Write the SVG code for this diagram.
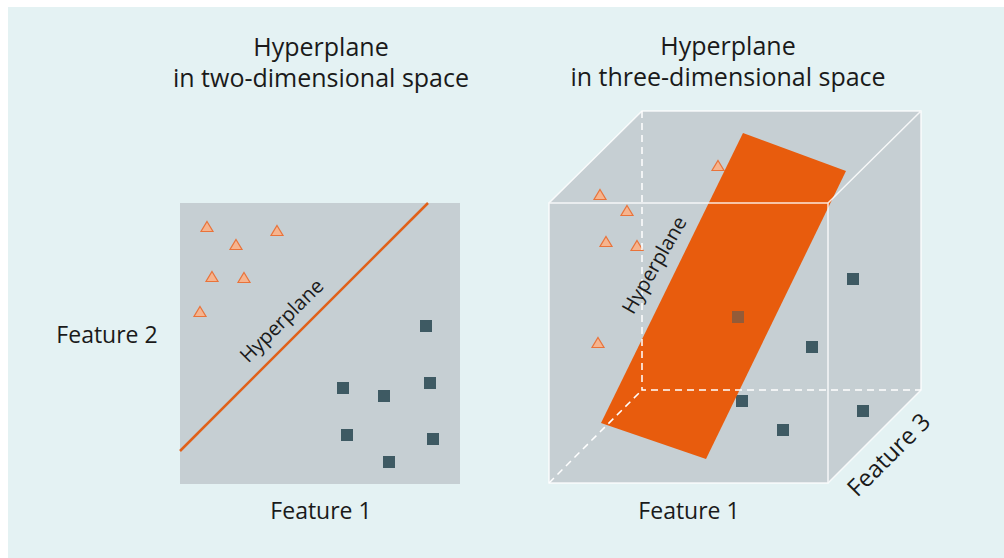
<svg xmlns="http://www.w3.org/2000/svg" xmlns:xlink="http://www.w3.org/1999/xlink" width="1004" height="558" viewBox="0 0 1004 558">
<style>
.t{font-family:"Open Sans","Liberation Sans",sans-serif;fill:#1a1a1a}
.title{font-size:25px;text-anchor:middle}
.lab{font-size:23px;text-anchor:middle}
.hp{font-size:20px;text-anchor:middle}
.panel{fill:#c6cfd3}
.tri{fill:#f6b48e;stroke:#e9733a;stroke-width:1.2}
.sq{fill:#3e5a63}
.edge{stroke:#ffffff;stroke-width:1.5;fill:none}
.dash{stroke:#ffffff;stroke-width:1.5;fill:none;stroke-dasharray:7 5}
</style>
<defs>
<path id="tr" d="M0,-5.5 L6,4.5 L-6,4.5Z"/>
<rect id="sq" x="-6" y="-6" width="12" height="12"/>
</defs>
<rect x="8" y="7" width="996" height="551" fill="#e4f2f3"/>
<g id="titles">
<text class="t title" x="321" y="56">Hyperplane</text>
<text class="t title" x="321" y="87">in two-dimensional space</text>
<text class="t title" x="728" y="55">Hyperplane</text>
<text class="t title" x="728" y="86">in three-dimensional space</text>
</g>
<g id="plot2d">
<rect class="panel" x="180" y="203" width="280" height="281"/>
<line x1="180" y1="451" x2="428" y2="203" stroke="#e0611a" stroke-width="2.5"/>
<text class="t hp" transform="translate(283,322) rotate(-45)" x="0" y="5">Hyperplane</text>
<g class="tri">
<use xlink:href="#tr" x="207" y="227"/>
<use xlink:href="#tr" x="236" y="245"/>
<use xlink:href="#tr" x="277" y="231"/>
<use xlink:href="#tr" x="212" y="277"/>
<use xlink:href="#tr" x="244" y="278"/>
<use xlink:href="#tr" x="200" y="312"/>
</g>
<g class="sq">
<use xlink:href="#sq" x="426" y="326"/>
<use xlink:href="#sq" x="343" y="388"/>
<use xlink:href="#sq" x="384" y="396"/>
<use xlink:href="#sq" x="430" y="383"/>
<use xlink:href="#sq" x="347" y="435"/>
<use xlink:href="#sq" x="433" y="439"/>
<use xlink:href="#sq" x="389" y="462"/>
</g>
<text class="t lab" x="107" y="343">Feature 2</text>
<text class="t lab" x="321" y="519">Feature 1</text>
</g>
<g id="plot3d">
<polygon class="panel" points="549,203 642,111 921,111 921,390 828,483 549,483"/>
<g class="tri">
<use xlink:href="#tr" x="600" y="195"/>
<use xlink:href="#tr" x="627" y="211"/>
<use xlink:href="#tr" x="606" y="242"/>
<use xlink:href="#tr" x="637" y="246"/>
<use xlink:href="#tr" x="598" y="343"/>
<use xlink:href="#tr" x="718" y="166"/>
</g>
<g class="sq">
<use xlink:href="#sq" x="853" y="279"/>
<use xlink:href="#sq" x="812" y="347"/>
<use xlink:href="#sq" x="742" y="401"/>
<use xlink:href="#sq" x="863" y="411"/>
<use xlink:href="#sq" x="783" y="430"/>
</g>
<polygon points="743,133 846,171 706,459 601,423" fill="#e85c0d"/>
<use xlink:href="#sq" x="738" y="317" fill="#3e5a63" opacity="0.5"/>
<g id="cube-edges">
<path class="dash" d="M642,111 V390 H921 M549,483 L642,390"/>
<g opacity="0.85">
<rect class="edge" x="549" y="203" width="279" height="280"/>
<path class="edge" d="M549,203 L642,111 H921 V390 L828,483 M828,203 L921,111"/>
</g>
</g>
<text class="t hp" transform="translate(656,266) rotate(-60)" x="0" y="5">Hyperplane</text>
<text class="t lab" x="689" y="519">Feature 1</text>
<text class="t lab" transform="translate(889,455) rotate(-45)" x="0" y="8" style="font-size:24px">Feature 3</text>
</g>
</svg>
